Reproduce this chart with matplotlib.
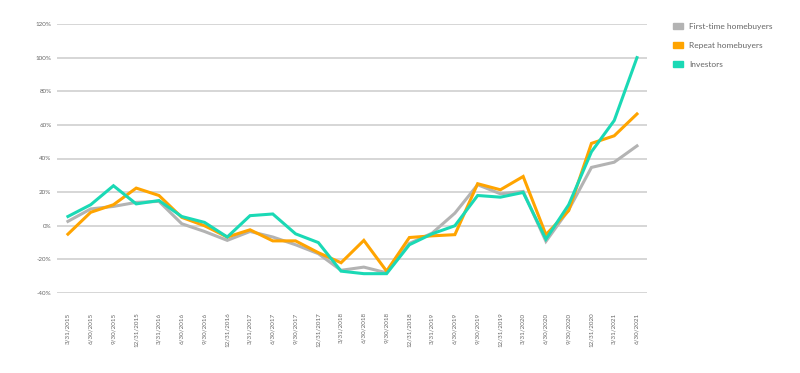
import matplotlib.pyplot as plt
from matplotlib.patches import Patch

dates = ["3/31/2015", "6/30/2015", "9/30/2015", "12/31/2015", "3/31/2016", "6/30/2016", "9/30/2016",
         "12/31/2016", "3/31/2017", "6/30/2017", "9/30/2017", "12/31/2017", "3/31/2018", "6/30/2018",
         "9/30/2018", "12/31/2018", "3/31/2019", "6/30/2019", "9/30/2019", "12/31/2019", "3/31/2020",
         "6/30/2020", "9/30/2020", "12/31/2020", "3/31/2021", "6/30/2021"]
first_time = [2.6, 10, 11.5, 13.9, 14.5, 1.2, -3.4, -8.7, -3.4, -6.7, -11.3, -16.6, -26.5, -24.6,
              -28, -10.5, -4.4, 7.5, 24.4, 19, 20.4, -9.3, 9.5, 34.7, 37.8, 47.5]
repeat = [-5, 8, 12.5, 22.4, 18, 5, 0, -6.7, -2.4, -9, -9, -16, -22, -8.7,
          -27, -7, -6, -5.3, 25, 21.4, 29.3, -5.3, 9, 49, 53.5, 66.5]
investors = [5.5, 12.5, 23.8, 13, 15, 5.5, 2, -6.7, 6, 7, -4.8, -10, -27, -28.5,
             -28.5, -11.3, -4.8, 0, 18, 17, 19.8, -8, 12.5, 44, 62.6, 100]
series_names = ["First-time homebuyers", "Repeat homebuyers", "Investors"]
colors = ["#B3B3B3", "#FFA400", "#1AD9B5"]

plt.rcParams['font.family'] = ['Lato', 'DejaVu Sans']
fig = plt.figure(figsize=(8, 3.73), dpi=100)
ax = fig.add_axes([57 / 800, 1 - 293 / 373, 590 / 800, 269 / 373])

x = list(range(len(dates)))
for vals, c in zip([first_time, repeat, investors], colors):
    ax.plot(x, vals, color=c, linewidth=2.2, solid_joinstyle="miter", zorder=3)

ax.set_ylim(-40, 120)
ax.set_xlim(-0.48, 25.44)
ax.set_yticks(range(-40, 121, 20))
ax.set_yticklabels([f"{v}%" for v in range(-40, 121, 20)], fontsize=4.5, color="#666666")
ax.set_xticks(x)
ax.set_xticklabels(dates, rotation=90, fontsize=4.5, color="#666666")
ax.tick_params(length=0, pad=4)
ax.tick_params(axis="x", pad=14)
ax.grid(axis="y", color="#CCCCCC", linewidth=1.1)
for s in ax.spines.values():
    s.set_visible(False)

handles = [Patch(color=c) for c in colors]
fig.legend(handles, series_names, loc="upper left", bbox_to_anchor=(0.832, 0.958), frameon=False,
           fontsize=6, labelcolor="#666666", handlelength=1.2, handleheight=0.75,
           labelspacing=1.45, handletextpad=0.7)

fig.savefig("out.png", dpi=100)
